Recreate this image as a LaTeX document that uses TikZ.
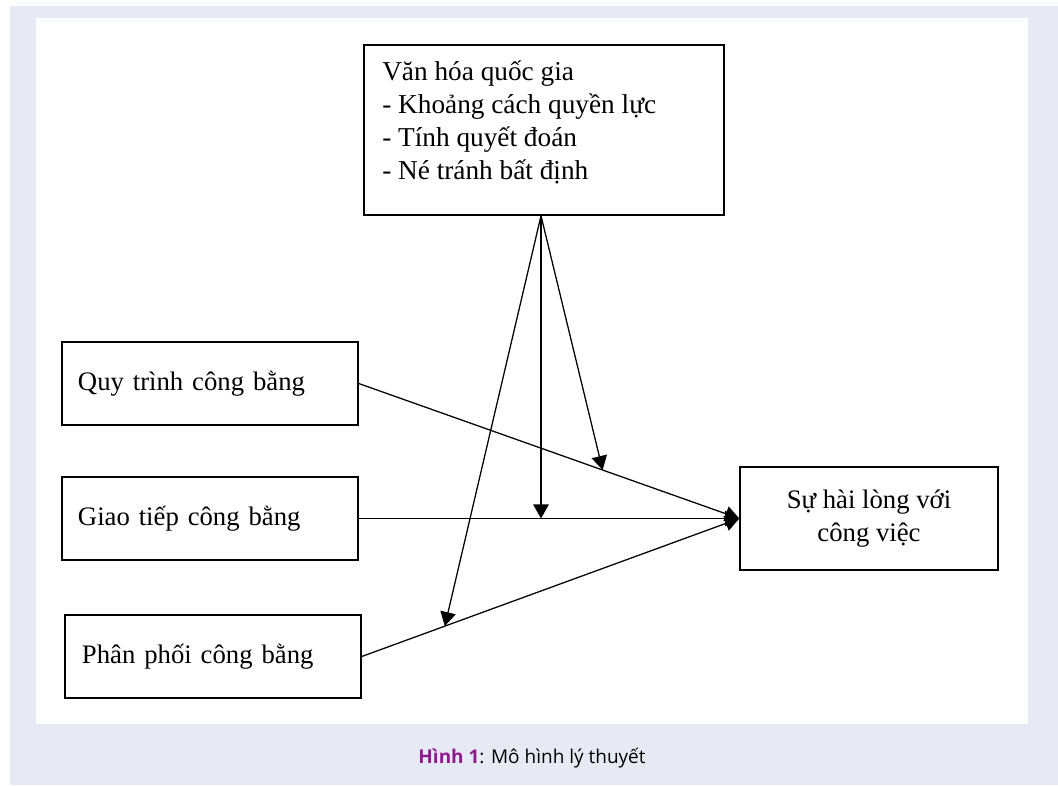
\documentclass[tikz,border=0pt]{standalone}
\usepackage{fontspec}
\setmainfont{Liberation Serif}
\newfontfamily\capfont{Open Sans}
\usepackage{tikz}
\usetikzlibrary{arrows.meta}
\definecolor{pagebg}{RGB}{230,234,245}
\definecolor{figpurple}{RGB}{142,26,142}
\tikzset{
 box/.style={draw, line width=1pt, inner ysep=0, inner xsep=0.4cm, text width=6.6cm, minimum height=2.075cm, align=left, font=\fontsize{19}{23.5}\selectfont},
 link/.style={line width=0.9pt, -{Triangle[width=11pt,length=10pt]}}
}

\begin{document}
\begin{tikzpicture}[x=0.025cm, y=-0.025cm]
\useasboundingbox (0,0) rectangle (1058,785);
\fill[pagebg] (10,6) rectangle (1058,785);
\fill[white] (36,18) rectangle (1028,724);

\node[draw, line width=1pt, minimum width=9cm, minimum height=4.25cm, inner sep=0] (vh) at (544,130) {};
\node[anchor=north west, inner sep=0, align=left, font=\fontsize{19.4}{23.5}\selectfont] (vhtext) at (382,60) {V\u{a}n hóa quốc gia\\- Khoảng cách quyền lực\\- Tính quyết đoán\\- Né tránh bất định};

\node[box] (qt) at (210,383.5) {Quy trình công bằng};
\node[box] (gt) at (210,518.5) {Giao tiếp công bằng};
\node[box, inner xsep=0.425cm, text width=6.55cm] (pp) at (213,656.5) {Phân phối công bằng};
\node[draw, line width=1pt, minimum width=6.45cm, minimum height=2.575cm, align=center, font=\fontsize{19}{23.5}\selectfont] (hl) at (869,518.5) {Sự hài lòng với\\công việc};

\draw[link] (qt.east) -- (hl.west) coordinate[pos=.641] (m1);
\draw[link] (gt.east) -- (hl.west);
\draw[link] (pp.east) -- (hl.west) coordinate[pos=.22] (m3);

\draw[link] ([xshift=-3*0.025cm]vh.south) coordinate (src) -- (src |- gt.east);
\draw[link] (src) -- (m1);
\draw[link] (src) -- (m3);

\node[font=\capfont\fontsize{13.5}{16}\selectfont] (cap) at (532,758) {\textcolor{figpurple}{\bfseries Hình 1}: Mô hình lý thuyết};
\end{tikzpicture}
\end{document}
